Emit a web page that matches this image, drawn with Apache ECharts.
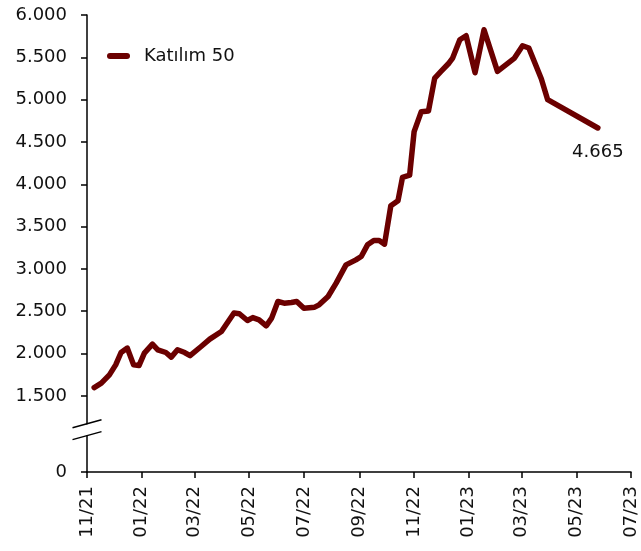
<!DOCTYPE html>
<html>
<head>
<meta charset="utf-8">
<script src="https://cdn.jsdelivr.net/npm/echarts@6/dist/echarts.min.js"></script>
<style>
    html, body { margin: 0; padding: 0; background: #fff; }
    #chart { width: 641px; height: 551px; }
</style>
</head>
<body>
<div id="chart"></div>
<script>
// weekly readings, Katılım 50 index
const seriesName = 'Katılım 50';
const dates = [
    '2021-11-09', '2021-11-17', '2021-11-26', '2021-12-03', '2021-12-09', '2021-12-16',
    '2021-12-23', '2021-12-29', '2022-01-04', '2022-01-13', '2022-01-19', '2022-01-28',
    '2022-02-03', '2022-02-10', '2022-02-18', '2022-02-24', '2022-03-08', '2022-03-18',
    '2022-03-31', '2022-04-14', '2022-04-20', '2022-04-29', '2022-05-05', '2022-05-12',
    '2022-05-20', '2022-05-26', '2022-06-02', '2022-06-09', '2022-06-17', '2022-06-23',
    '2022-07-01', '2022-07-13', '2022-07-18', '2022-07-28', '2022-08-06', '2022-08-17',
    '2022-08-28', '2022-09-03', '2022-09-10', '2022-09-17', '2022-09-23', '2022-09-29',
    '2022-10-06', '2022-10-14', '2022-10-19', '2022-10-27', '2022-11-01', '2022-11-09',
    '2022-11-17', '2022-11-24', '2022-12-01', '2022-12-10', '2022-12-14', '2022-12-22',
    '2022-12-29', '2023-01-08', '2023-01-18', '2023-02-02', '2023-02-21', '2023-03-02',
    '2023-03-09', '2023-03-23', '2023-03-30', '2023-05-25'
];
const values = [
    1598, 1650, 1748, 1866, 2012, 2064,
    1866, 1858, 2005, 2111, 2044, 2012,
    1957, 2044, 2012, 1975, 2080, 2170,
    2260, 2478, 2470, 2390, 2425, 2398,
    2327, 2418, 2615, 2595, 2603, 2615,
    2536, 2548, 2575, 2674, 2832, 3047,
    3106, 3146, 3284, 3335, 3335, 3292,
    3746, 3805, 4081, 4108, 4622, 4858,
    4866, 5255, 5333, 5433, 5491, 5708,
    5755, 5318, 5826, 5333, 5491, 5637,
    5610, 5243, 4999, 4665
];
const xTicks = [
    '2021-11-01', '2022-01-01', '2022-03-01', '2022-05-01', '2022-07-01', '2022-09-01',
    '2022-11-01', '2023-01-01', '2023-03-01', '2023-05-01', '2023-07-01'
];
const yTicks = [0, 1500, 2000, 2500, 3000, 3500, 4000, 4500, 5000, 5500, 6000];
const yBreak = { start: 430, end: 1170, gap: 140 };

const fontFamily = 'DejaVu Sans';
const textColor = '#111';
const lineColor = '#6b0000';

const toTime = function (s) {
    return new Date(s + 'T00:00:00Z').getTime();
};
const fmtNum = function (v) {
    return String(Math.round(v)).replace(/\B(?=(\d{3})+(?!\d))/g, '.');
};
const fmtMonth = function (t) {
    const d = new Date(t);
    const m = String(d.getUTCMonth() + 1).padStart(2, '0');
    const y = String(d.getUTCFullYear()).slice(2);
    return m + '/' + y;
};

const tickTimes = xTicks.map(toTime);
const data = dates.map(function (d, i) {
    const item = { value: [toTime(d), values[i]] };
    if (i === dates.length - 1) {
        // only the last point carries a (tiny) symbol so that its label can show
        item.symbol = 'circle';
        item.symbolSize = 2;
        item.label = {
            show: true,
            position: 'bottom',
            distance: 14,
            color: textColor,
            fontFamily: fontFamily,
            fontSize: 18,
            formatter: function (p) { return fmtNum(p.value[1]); }
        };
    }
    return item;
});

const chart = echarts.init(document.getElementById('chart'), null, { renderer: 'canvas' });

chart.setOption({
    animation: false,
    backgroundColor: '#fff',
    grid: {
        left: 87,
        right: 10,
        top: 15,
        bottom: 79,
        containLabel: false,
        outerBoundsMode: 'none'
    },
    legend: {
        left: 102,
        top: 42,
        itemWidth: 23,
        itemHeight: 6,
        textStyle: {
            color: textColor,
            fontFamily: fontFamily,
            fontSize: 18,
            padding: [0, 0, 0, 9]
        },
        data: [{
            name: seriesName,
            icon: 'path://M3,0 H20 A3,3 0 0 1 20,6 H3 A3,3 0 0 1 3,0 Z'
        }]
    },
    xAxis: {
        type: 'value',
        min: tickTimes[0],
        max: tickTimes[tickTimes.length - 1],
        splitLine: { show: false },
        axisLine: { lineStyle: { color: '#000', width: 1.5 } },
        axisTick: {
            customValues: tickTimes,
            length: 6,
            lineStyle: { color: '#000', width: 1.5 }
        },
        axisLabel: {
            customValues: tickTimes,
            rotate: 90,
            margin: 14,
            color: textColor,
            fontFamily: fontFamily,
            fontSize: 18,
            formatter: function (v) { return fmtMonth(v); }
        }
    },
    yAxis: {
        type: 'value',
        min: 0,
        max: 6000,
        interval: 500,
        breaks: [yBreak],
        breakArea: {
            show: true,
            itemStyle: { color: '#fff', borderWidth: 0, opacity: 1 },
            zigzagAmplitude: 0,
            expandOnClick: false
        },
        splitLine: { show: false },
        axisLine: { show: true, lineStyle: { color: '#000', width: 1.5 } },
        axisTick: {
            show: true,
            customValues: yTicks,
            length: 6,
            lineStyle: { color: '#000', width: 1.5 }
        },
        axisLabel: {
            customValues: yTicks,
            margin: 20,
            color: textColor,
            fontFamily: fontFamily,
            fontSize: 18,
            formatter: function (v, idx, extra) {
                if (extra && extra.break) {
                    return '';
                }
                return fmtNum(v);
            }
        }
    },
    series: [{
        name: seriesName,
        type: 'line',
        symbol: 'none',
        data: data,
        lineStyle: { color: lineColor, width: 5.5, cap: 'round', join: 'round' },
        itemStyle: { color: lineColor }
    }]
});

// axis-break slashes drawn where the break meets the y axis
const axisX = chart.convertToPixel({ xAxisIndex: 0 }, tickTimes[0]);
const yLow = chart.convertToPixel({ yAxisIndex: 0 }, yBreak.start);
const yHigh = chart.convertToPixel({ yAxisIndex: 0 }, yBreak.end);
const slash = function (y) {
    return {
        type: 'line',
        shape: { x1: axisX - 14.5, y1: y + 4, x2: axisX + 14.5, y2: y - 4 },
        style: { stroke: '#000', lineWidth: 1.5 },
        z: 200
    };
};
chart.setOption({ graphic: [slash(yLow), slash(yHigh)] });
</script>
</body>
</html>
